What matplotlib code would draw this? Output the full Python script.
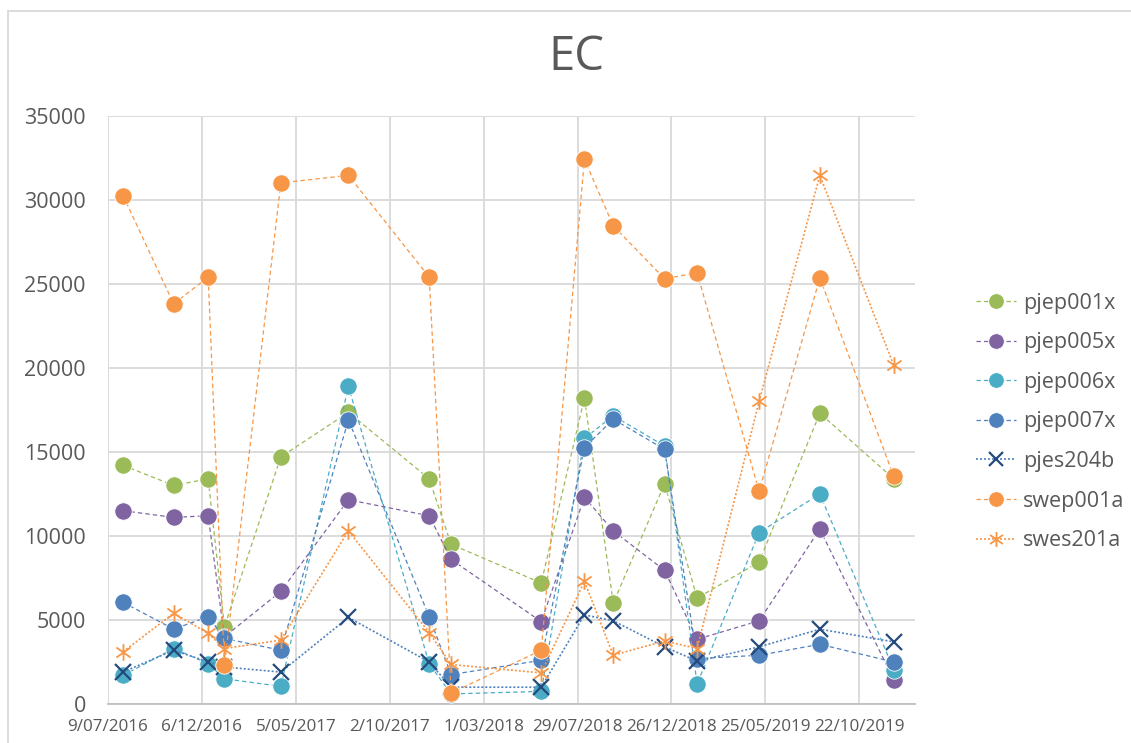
import matplotlib
matplotlib.use("Agg")
import matplotlib.pyplot as plt
from matplotlib.path import Path
from matplotlib.lines import Line2D
import datetime as dt

plt.rcParams['font.family'] = ['Open Sans', 'DejaVu Sans']

# ---- data ----
dates = ["2016-08-02", "2016-10-22", "2016-12-16", "2017-01-11", "2017-04-11",
         "2017-07-28", "2017-12-04", "2018-01-08", "2018-06-01", "2018-08-09",
         "2018-09-24", "2018-12-15", "2019-02-05", "2019-05-15", "2019-08-20",
         "2019-12-16"]
pjep001x = [14200, 13000, 13400, 4600, 14700, 17350, 13400, 9500, 7200, 18200, 6000, 13100, 6300, 8450, 17300, 13400]
pjep005x = [11500, 11100, 11200, 4000, 6700, 12150, 11200, 8600, 4900, 12300, 10300, 7950, 3850, 4950, 10400, 1450]
pjep006x = [1700, 3300, 2400, 1500, 1050, 18900, 2400, 600, 750, 15800, 17150, 15350, 1200, 10200, 12500, 2050]
pjep007x = [6050, 4450, 5200, 3900, 3200, 16900, 5200, 1750, 2600, 15250, 16950, 15150, 2700, 2900, 3550, 2500]
pjes204b = [1900, 3200, 2500, 2200, 1900, 5150, 2500, 1000, 1000, 5300, 4950, 3400, 2550, 3400, 4450, 3700]
swep001a = [30250, 23800, 25400, 2300, 31000, 31450, 25400, 650, 3200, 32400, 28450, 25300, 25650, 12650, 25350, 13550]
swes201a = [3100, 5400, 4200, 3300, 3800, 10300, 4250, 2350, 1850, 7300, 2900, 3750, 3300, 18000, 31450, 20150]

x_tick_labels = ["9/07/2016", "6/12/2016", "5/05/2017", "2/10/2017", "1/03/2018",
                 "29/07/2018", "26/12/2018", "25/05/2019", "22/10/2019"]
y_ticks = [0, 5000, 10000, 15000, 20000, 25000, 30000, 35000]
x_end = "2020-01-19"
title = "EC"

# ---- style ----
c_green = "#9BBB59"
c_purple = "#8064A2"
c_teal = "#4BACC6"
c_blue = "#4F81BD"
c_navy = "#254A7C"
c_orange = "#F79646"
grid_c = "#D9D9D9"
text_c = "#595959"

star_path = Path([(0, -1), (0, 1), (-0.85, -0.6), (0.85, 0.6), (-0.85, 0.6), (0.85, -0.6)],
                 [Path.MOVETO, Path.LINETO, Path.MOVETO, Path.LINETO, Path.MOVETO, Path.LINETO])

fig = plt.figure(figsize=(11.31, 7.43), dpi=100)
W, H = 1131, 743
ax = fig.add_axes([108 / W, (H - 704) / H, (915 - 108) / W, (704 - 115.7) / H])

xd = [dt.datetime.strptime(d, "%Y-%m-%d") for d in dates]

dash = (0, (3.5, 2.5))
dot = (0, (1.2, 1.2))
series = [
    ("pjep001x", pjep001x, c_green, 'o', dash),
    ("pjep005x", pjep005x, c_purple, 'o', dash),
    ("pjep006x", pjep006x, c_teal, 'o', dash),
    ("pjep007x", pjep007x, c_blue, 'o', dash),
    ("pjes204b", pjes204b, c_navy, 'x', dot),
    ("swep001a", swep001a, c_orange, 'o', dash),
    ("swes201a", swes201a, c_orange, star_path, dot),
]

for i, (name, vals, col, mk, ls) in enumerate(series):
    if mk == 'o':
        ax.plot(xd, vals, linestyle=ls, color=col, lw=0.9, marker='o', ms=12.5,
                mfc=col, mec='white', mew=0.6, label=name, zorder=3 + i)
    elif mk == 'x':
        ax.plot(xd, vals, linestyle=ls, color=c_blue, lw=1.2, marker='x', ms=11,
                mec=col, mew=1.6, label=name, zorder=3 + i)
    else:
        ax.plot(xd, vals, linestyle=ls, color=col, lw=1.2, marker=mk, ms=12,
                mec=col, mfc='none', mew=1.3, label=name, zorder=3 + i)

tick_dates = [dt.datetime.strptime(t, "%d/%m/%Y") for t in x_tick_labels]
ax.set_xlim(tick_dates[0], dt.datetime.strptime(x_end, "%Y-%m-%d"))
ax.set_ylim(y_ticks[0], y_ticks[-1])
ax.set_xticks(tick_dates)
ax.set_xticklabels(x_tick_labels)
ax.set_yticks(y_ticks)
ax.set_yticklabels([str(v) for v in y_ticks])

ax.grid(True, color=grid_c, lw=1.3, zorder=0)
ax.set_axisbelow(True)
for s in ['top', 'right', 'left']:
    ax.spines[s].set_visible(False)
ax.spines['bottom'].set_color("#BFBFBF")
ax.spines['bottom'].set_linewidth(1.3)
ax.tick_params(axis='both', length=0, colors=text_c)
ax.tick_params(axis='x', labelsize=12.3, pad=11)
ax.tick_params(axis='y', labelsize=15.5, pad=16)

fig.text(576 / W, 1 - 57 / H, title, ha='center', va='center', fontsize=34, color=text_c)

leg = fig.legend(loc='center left', bbox_to_anchor=(976 / W, (H - 422) / H),
                 frameon=False, fontsize=15.5, handlelength=1.85, handletextpad=0.35,
                 labelspacing=0.86, borderpad=0, borderaxespad=0, markerscale=0.9)
for t in leg.get_texts():
    t.set_color(text_c)

# chart area border
fig.add_artist(Line2D([8 / W, 8 / W], [0, 1 - 11 / H], transform=fig.transFigure, color=grid_c, lw=1.3))
fig.add_artist(Line2D([8 / W, 1], [1 - 11 / H, 1 - 11 / H], transform=fig.transFigure, color=grid_c, lw=1.3))

fig.savefig("out.png", dpi=100)
